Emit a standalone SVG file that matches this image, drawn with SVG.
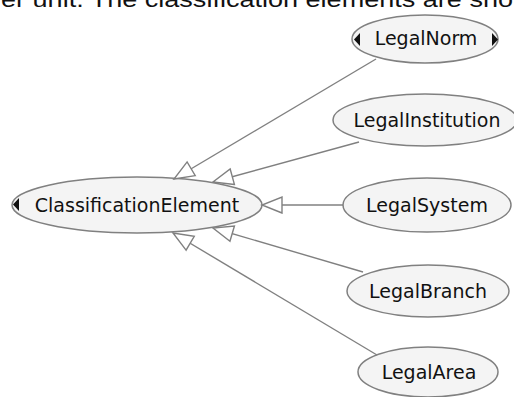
<svg xmlns="http://www.w3.org/2000/svg" width="514" height="397" viewBox="0 0 514 397">
  <style>
    .node ellipse { fill: #f4f4f4; stroke: #808080; stroke-width: 1.5; }
    .node text { font-family: "DejaVu Sans", Verdana, sans-serif; font-size: 19px; fill: #111; text-anchor: middle; }
    .expander { fill: #111; }
    .edge { stroke: #808080; stroke-width: 1.4; fill: none; marker-end: url(#hollow); }
    .caption { font-family: "Liberation Sans", Arial, sans-serif; font-size: 22px; fill: #111; }
  </style>
  <defs>
    <marker id="hollow" viewBox="0 0 20 16" refX="20" refY="8" markerWidth="20" markerHeight="16" markerUnits="userSpaceOnUse" orient="auto" overflow="visible">
      <path d="M0,0 L20,8 L0,16 Z" fill="#ffffff" stroke="#808080" stroke-width="1.4"/>
    </marker>
  </defs>
  <rect width="514" height="397" fill="#ffffff"/>

  <!-- running text line, cut off at the top edge -->
  <text class="caption" x="1" y="7" textLength="512" lengthAdjust="spacingAndGlyphs">er unit. The classification elements are sho</text>

  <g id="ClassificationElement" class="node">
    <ellipse cx="137" cy="205" rx="125" ry="28"/>
    <path class="expander" d="M19,198 L13,204.5 L19,211 Z"/>
    <text x="137" y="212">ClassificationElement</text>
  </g>

  <g id="LegalNorm" class="node">
    <ellipse cx="425" cy="39" rx="73" ry="24"/>
    <path class="expander" d="M360,33 L354,39.5 L360,46 Z"/>
    <path class="expander" d="M492,33 L498,39.5 L492,46 Z"/>
    <text x="426" y="45">LegalNorm</text>
  </g>

  <g id="LegalInstitution" class="node">
    <ellipse cx="425" cy="120" rx="92" ry="26"/>
    <text x="427" y="127">LegalInstitution</text>
  </g>

  <g id="LegalSystem" class="node">
    <ellipse cx="427" cy="205" rx="84" ry="27"/>
    <text x="427" y="212">LegalSystem</text>
  </g>

  <g id="LegalBranch" class="node">
    <ellipse cx="428" cy="291" rx="81" ry="26"/>
    <text x="428" y="298">LegalBranch</text>
  </g>

  <g id="LegalArea" class="node">
    <ellipse cx="428" cy="372" rx="70" ry="25"/>
    <text x="429" y="379">LegalArea</text>
  </g>

  <g id="connectors">
    <line class="edge" x1="376" y1="59" x2="174" y2="179"/>
    <line class="edge" x1="359" y1="142" x2="213" y2="182"/>
    <line class="edge" x1="343" y1="205" x2="262" y2="205"/>
    <line class="edge" x1="363" y1="272" x2="213" y2="228"/>
    <line class="edge" x1="377" y1="355" x2="173" y2="233"/>
  </g>
</svg>
